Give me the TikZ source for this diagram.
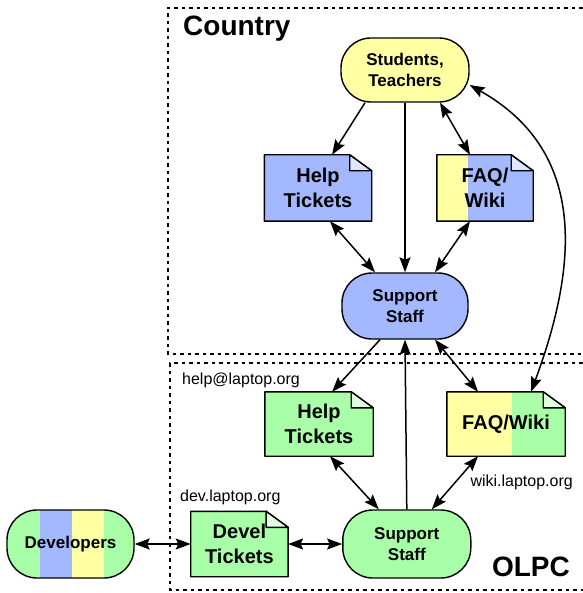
\documentclass[tikz,border=0pt]{standalone}
\usepackage{fontspec}
\setmainfont{Liberation Sans}
\usetikzlibrary{arrows.meta, positioning, backgrounds}
\definecolor{wikiyellow}{HTML}{FFFFA3}
\definecolor{ticketblue}{HTML}{A3B8FF}
\definecolor{olpcgreen}{HTML}{A8FFA8}
\newcommand{\foldx}{22pt}
\newcommand{\foldy}{16pt}
\newcommand{\docbg}[3][]{%
  \path[docedge, fill=#3, #1] (#2.north west) -- ([xshift=-\foldx]#2.north east) -- ([yshift=-\foldy]#2.north east) -- (#2.south east) -- (#2.south west) -- cycle;
  \path[docedge, fill=#3!35!white] ([xshift=-\foldx]#2.north east) -- ([xshift=-\foldx,yshift=-\foldy]#2.north east) -- ([yshift=-\foldy]#2.north east) -- cycle;}
\tikzset{
  person/.style={rectangle, rounded corners=30pt, draw=black, line width=1.4pt, align=center, inner sep=0pt, font=\fontsize{17}{21}\selectfont\bfseries},
  doc/.style={rectangle, align=center, inner sep=0pt, font=\fontsize{20}{25}\selectfont\bfseries},
  docedge/.style={draw=black, line width=1.4pt, line join=round},
  site/.style={font=\fontsize{16}{19}\selectfont, inner sep=0pt},
  region/.style={draw=black, line width=1.5pt, dash pattern=on 3.5pt off 4pt},
  title/.style={font=\fontsize{28}{32}\selectfont\bfseries, inner sep=0pt},
  arr/.style={-{Stealth[length=15pt, width=11pt, inset=2.5pt]}, line width=1.5pt},
  arrboth/.style={{Stealth[length=15pt, width=11pt, inset=2.5pt]}-{Stealth[length=15pt, width=11pt, inset=2.5pt]}, line width=1.5pt},
  leftpart/.style={path picture={\fill[wikiyellow, sharp corners] (path picture bounding box.north west) rectangle ([xshift=#1]path picture bounding box.south west);}},
  stripes/.style={path picture={\fill[ticketblue, sharp corners] ([xshift=33pt]path picture bounding box.south west) rectangle ([xshift=65pt]path picture bounding box.north west);
    \fill[wikiyellow, sharp corners] ([xshift=65pt]path picture bounding box.south west) rectangle ([xshift=97pt]path picture bounding box.north west);}},
}
\begin{document}
\begin{tikzpicture}[x=1pt, y=-1pt]
\useasboundingbox (0,0) rectangle (582,593);
\draw[region] (590,8) -- (168,8) -- (168,354) -- (590,354);
\draw[region] (590,363) -- (170,363) -- (170,590) -- (590,590);
\node[title, anchor=west] (country) at (183,29) {Country};
\node[title, anchor=east] (olpc) at (570,567) {OLPC};

\node[person, fill=wikiyellow, minimum width=128pt, minimum height=64pt] (stud) at (405,70) {Students,\\Teachers};
\node[doc, minimum width=107pt, minimum height=66pt] (ht1) at (318,188) {Help\\Tickets};
\node[doc, minimum width=96pt, minimum height=66pt] (faq1) at (485,188) {FAQ/\\Wiki};
\node[person, fill=ticketblue, minimum width=126pt, minimum height=66pt] (ss1) at (405,306) {Support\\Staff};
\node[doc, minimum width=108pt, minimum height=64pt] (ht2) at (319,424) {Help\\Tickets};
\node[doc, minimum width=118pt, minimum height=64pt] (faq2) at (506,424) {FAQ/Wiki};
\node[person, fill=olpcgreen, stripes, minimum width=127pt, minimum height=68pt] (dev) at (70.5,544) {Developers};
\node[doc, right=56pt of dev, minimum width=97pt, minimum height=65pt] (dt) {Devel\\Tickets};
\node[person, fill=olpcgreen, right=54pt of dt, minimum width=128pt, minimum height=68pt] (ss2) {Support\\Staff};
\node[site, anchor=west] (helpaddr) at (182,380) {help@laptop.org};
\node[site, anchor=east] (wikiaddr) at (573,482) {wiki.laptop.org};
\node[site, anchor=west] (devaddr) at (180,497) {dev.laptop.org};

\begin{scope}[on background layer]
\docbg{ht1}{ticketblue}
\docbg[leftpart=31pt]{faq1}{ticketblue}
\docbg{ht2}{olpcgreen}
\docbg[leftpart=65pt]{faq2}{olpcgreen}
\docbg{dt}{olpcgreen}
\end{scope}

\draw[arr] ([xshift=-40pt]stud.south) -- ([xshift=14pt]ht1.north);
\draw[arr] (stud.south) -- (ss1.north);
\draw[arrboth] ([xshift=35pt]stud.south) -- ([xshift=-15pt]faq1.north);
\draw[arrboth] ([xshift=12pt]ht1.south) -- ([xshift=-30pt]ss1.north);
\draw[arrboth] ([xshift=-15pt]faq1.south) -- ([xshift=30pt]ss1.north);
\draw[arrboth] ([yshift=-15pt]stud.east) .. controls +(115,65) and +(49,-132) .. ([xshift=25pt]faq2.north);
\draw[arr] ([xshift=-25pt]ss1.south) -- ([xshift=13pt]ht2.north);
\draw[arrboth] ([xshift=30pt]ss1.south) -- ([xshift=-28pt]faq2.north);
\draw[arr] (ss2.north) -- (ss1.south);
\draw[arrboth] ([xshift=11pt]ht2.south) -- ([xshift=-28pt]ss2.north);
\draw[arrboth] ([xshift=-28pt]faq2.south) -- ([xshift=25pt]ss2.north);
\draw[arrboth] (dev.east) -- (dt.west);
\draw[arrboth] (dt.east) -- (ss2.west);
\end{tikzpicture}
\end{document}
